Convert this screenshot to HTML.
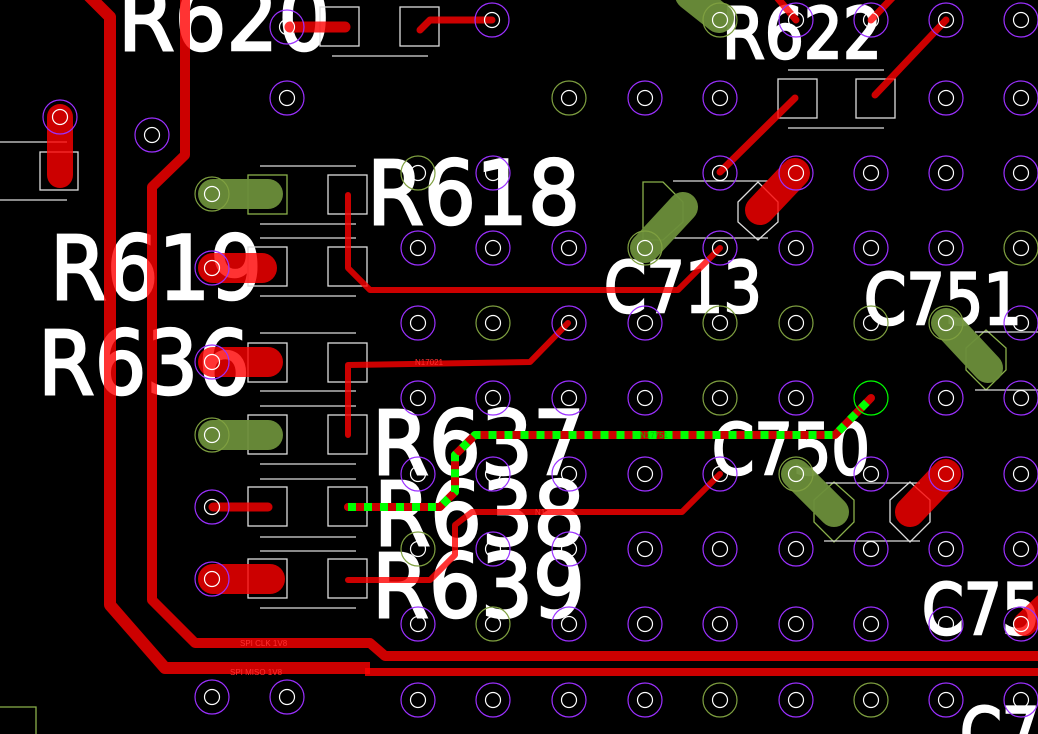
<!DOCTYPE html>
<html><head><meta charset="utf-8"><style>
html,body{margin:0;padding:0;background:#000;width:1038px;height:734px;overflow:hidden}
svg{display:block;overflow:hidden}
.big{font-family:"DejaVu Sans","Liberation Sans",sans-serif;fill:#fff;stroke:#fff;stroke-width:2.5}
</style></head><body>
<svg width="1038" height="734" viewBox="0 0 1038 734" xmlns="http://www.w3.org/2000/svg">
<defs><clipPath id="c"><rect width="1038" height="734"/></clipPath></defs>
<g clip-path="url(#c)">
<rect width="1038" height="734" fill="#000"/>
<g class="big">
<text x="118" y="50" font-size="88" textLength="212" lengthAdjust="spacingAndGlyphs">R620</text>
<text x="722" y="58" font-size="70" textLength="160" lengthAdjust="spacingAndGlyphs">R622</text>
<text x="367" y="224" font-size="88" textLength="213" lengthAdjust="spacingAndGlyphs">R618</text>
<text x="50" y="299" font-size="88" textLength="212" lengthAdjust="spacingAndGlyphs">R619</text>
<text x="38" y="394" font-size="88" textLength="212" lengthAdjust="spacingAndGlyphs">R636</text>
<text x="372" y="474" font-size="88" textLength="213" lengthAdjust="spacingAndGlyphs">R637</text>
<text x="374" y="545" font-size="88" textLength="211" lengthAdjust="spacingAndGlyphs">R638</text>
<text x="372" y="617" font-size="88" textLength="213" lengthAdjust="spacingAndGlyphs">R639</text>
<text x="604" y="312" font-size="70" textLength="158" lengthAdjust="spacingAndGlyphs">C713</text>
<text x="864" y="324" font-size="70" textLength="158" lengthAdjust="spacingAndGlyphs">C751</text>
<text x="712" y="474" font-size="70" textLength="158" lengthAdjust="spacingAndGlyphs">C750</text>
<text x="922" y="634" font-size="70" textLength="156" lengthAdjust="spacingAndGlyphs">C751</text>
<text x="960" y="758" font-size="70" textLength="156" lengthAdjust="spacingAndGlyphs">C752</text>
</g>
<g stroke="#ddd" stroke-width="1.3" fill="none">
<rect x="40" y="152" width="38" height="38"/>
<line x1="0" y1="142" x2="67" y2="142"/><line x1="0" y1="200" x2="67" y2="200"/>
<rect x="320" y="7" width="39" height="39"/><rect x="400" y="7" width="39" height="39"/>
<line x1="332" y1="56" x2="428" y2="56"/>
<rect x="778" y="79" width="39" height="39"/><rect x="856" y="79" width="39" height="39"/>
<line x1="788" y1="70" x2="884" y2="70"/><line x1="788" y1="128" x2="884" y2="128"/>
<g>
<rect x="248" y="175" width="39" height="39" stroke="#8ab04a"/><rect x="328" y="175" width="39" height="39"/>
<rect x="248" y="247" width="39" height="39"/><rect x="328" y="247" width="39" height="39"/>
<rect x="248" y="343" width="39" height="39"/><rect x="328" y="343" width="39" height="39"/>
<rect x="248" y="415" width="39" height="39"/><rect x="328" y="415" width="39" height="39"/>
<rect x="248" y="487" width="39" height="39"/><rect x="328" y="487" width="39" height="39"/>
<rect x="248" y="559" width="39" height="39"/><rect x="328" y="559" width="39" height="39"/>
<line x1="260" y1="166" x2="356" y2="166"/><line x1="260" y1="224" x2="356" y2="224"/>
<line x1="260" y1="238" x2="356" y2="238"/><line x1="260" y1="296" x2="356" y2="296"/>
<line x1="260" y1="333" x2="356" y2="333"/><line x1="260" y1="391" x2="356" y2="391"/>
<line x1="260" y1="406" x2="356" y2="406"/><line x1="260" y1="464" x2="356" y2="464"/>
<line x1="260" y1="479" x2="356" y2="479"/><line x1="260" y1="537" x2="356" y2="537"/>
<line x1="260" y1="551" x2="356" y2="551"/><line x1="260" y1="608" x2="356" y2="608"/>
</g>
<polygon points="663,182 683,182 703,202 703,222 683,240 663,240" stroke="#8ab04a" transform="translate(-20,0)"/>
<polygon points="738,202 758,182 778,202 778,222 758,240 738,222" stroke="#ddd"/>
<line x1="673" y1="181" x2="768" y2="181"/><line x1="673" y1="238" x2="768" y2="238"/>
<polygon points="966,348 986,330 1006,348 1006,370 986,390 966,370" stroke="#8ab04a"/>
<line x1="975" y1="332" x2="1038" y2="332"/><line x1="975" y1="390" x2="1038" y2="390"/>
<polygon points="814,500 834,482 854,500 854,522 834,542 814,522" stroke="#8ab04a"/>
<polygon points="890,500 910,482 930,500 930,522 910,542 890,522" stroke="#ddd"/>
<line x1="824" y1="483" x2="920" y2="483"/><line x1="824" y1="541" x2="920" y2="541"/>
<polyline points="0,707 36,707 36,734" stroke="#8ab04a"/>
</g>
<g fill="none" stroke="#ff0000" stroke-opacity="0.8" stroke-linecap="round" stroke-linejoin="round">
<polyline points="88,-5 110,17 110,605 165,668 370,668" stroke-width="12" stroke-linecap="butt"/>
<polyline points="365,672 1040,672" stroke-width="8" stroke-linecap="butt"/>
<polyline points="185,-5 185,155 152,187 152,600 195,643 370,643 385,656 1040,656" stroke-width="10" stroke-linecap="butt"/>
<polyline points="348,195 348,268 370,290 678,290 720,248" stroke-width="6"/>
<polyline points="348,435 348,365 530,362 568,323" stroke-width="6"/>
<polyline points="348,580 430,580 455,555 455,525 472,512 682,512 720,474" stroke-width="6"/>
<polyline points="720,172 795,98" stroke-width="7"/>
<polyline points="875,95 946,20" stroke-width="7"/>
<polyline points="871,20 895,-5" stroke-width="7"/>
<polyline points="796,20 775,-5" stroke-width="7"/>
<polyline points="420,30 430,20 492,20" stroke-width="7"/>
<line x1="60" y1="117" x2="60" y2="175" stroke-width="26"/>
<line x1="290" y1="27" x2="345" y2="27" stroke-width="11"/>
<line x1="213" y1="268" x2="262" y2="268" stroke-width="30"/>
<line x1="213" y1="362" x2="268" y2="362" stroke-width="30"/>
<line x1="213" y1="507" x2="268" y2="507" stroke-width="9"/>
<line x1="213" y1="579" x2="270" y2="579" stroke-width="30"/>
<line x1="760" y1="210" x2="795" y2="173" stroke-width="30"/>
<line x1="910" y1="512" x2="946" y2="474" stroke-width="30"/>
<line x1="1025" y1="624" x2="1045" y2="605" stroke-width="24"/>
</g>
<g fill="none" stroke-linecap="round" stroke-linejoin="round">
<polyline points="348,507 440,507 455,492 455,455 475,435 835,435 871,398" stroke="#cc0000" stroke-width="8"/>
<polyline points="348,507 440,507 455,492 455,455 475,435 835,435 871,398" stroke="#00ff00" stroke-width="8" stroke-dasharray="8 8" stroke-linecap="butt"/>
</g>
<g stroke="#6b8e3a" stroke-opacity="0.95" stroke-linecap="round" fill="none">
<line x1="213" y1="194" x2="268" y2="194" stroke-width="30"/>
<line x1="213" y1="435" x2="268" y2="435" stroke-width="30"/>
<line x1="645" y1="248" x2="683" y2="207" stroke-width="30"/>
<line x1="946" y1="323" x2="988" y2="368" stroke-width="30"/>
<line x1="796" y1="474" x2="834" y2="512" stroke-width="30"/>
<line x1="690" y1="-5" x2="719" y2="18" stroke-width="30"/>
</g>
<g fill="none" stroke-width="1.2">
<g stroke="#9b30ff">
<circle cx="287" cy="27" r="17"/><circle cx="492" cy="20" r="17"/><circle cx="796" cy="20" r="17"/><circle cx="871" cy="20" r="17"/><circle cx="946" cy="20" r="17"/><circle cx="1021" cy="20" r="17"/>
<circle cx="287" cy="98" r="17"/><circle cx="645" cy="98" r="17"/><circle cx="720" cy="98" r="17"/><circle cx="946" cy="98" r="17"/><circle cx="1021" cy="98" r="17"/>
<circle cx="60" cy="117" r="17"/><circle cx="152" cy="135" r="17"/>
<circle cx="493" cy="173" r="17"/><circle cx="720" cy="173" r="17"/><circle cx="796" cy="173" r="17"/><circle cx="871" cy="173" r="17"/><circle cx="946" cy="173" r="17"/><circle cx="1021" cy="173" r="17"/>
<circle cx="418" cy="248" r="17"/><circle cx="493" cy="248" r="17"/><circle cx="569" cy="248" r="17"/><circle cx="720" cy="248" r="17"/><circle cx="796" cy="248" r="17"/><circle cx="871" cy="248" r="17"/><circle cx="946" cy="248" r="17"/>
<circle cx="418" cy="323" r="17"/><circle cx="569" cy="323" r="17"/><circle cx="645" cy="323" r="17"/><circle cx="1021" cy="323" r="17"/>
<circle cx="418" cy="398" r="17"/><circle cx="493" cy="398" r="17"/><circle cx="569" cy="398" r="17"/><circle cx="645" cy="398" r="17"/><circle cx="796" cy="398" r="17"/><circle cx="946" cy="398" r="17"/><circle cx="1021" cy="398" r="17"/>
<circle cx="418" cy="474" r="17"/><circle cx="493" cy="474" r="17"/><circle cx="569" cy="474" r="17"/><circle cx="645" cy="474" r="17"/><circle cx="720" cy="474" r="17"/><circle cx="871" cy="474" r="17"/><circle cx="946" cy="474" r="17"/><circle cx="1021" cy="474" r="17"/>
<circle cx="493" cy="549" r="17"/><circle cx="569" cy="549" r="17"/><circle cx="645" cy="549" r="17"/><circle cx="720" cy="549" r="17"/><circle cx="796" cy="549" r="17"/><circle cx="871" cy="549" r="17"/><circle cx="946" cy="549" r="17"/><circle cx="1021" cy="549" r="17"/>
<circle cx="418" cy="624" r="17"/><circle cx="569" cy="624" r="17"/><circle cx="645" cy="624" r="17"/><circle cx="720" cy="624" r="17"/><circle cx="796" cy="624" r="17"/><circle cx="871" cy="624" r="17"/><circle cx="946" cy="624" r="17"/><circle cx="1021" cy="624" r="17"/>
<circle cx="212" cy="697" r="17"/><circle cx="287" cy="697" r="17"/><circle cx="418" cy="700" r="17"/><circle cx="493" cy="700" r="17"/><circle cx="569" cy="700" r="17"/><circle cx="645" cy="700" r="17"/><circle cx="796" cy="700" r="17"/><circle cx="946" cy="700" r="17"/><circle cx="1021" cy="700" r="17"/>
<circle cx="212" cy="268" r="17"/><circle cx="212" cy="362" r="17"/><circle cx="212" cy="507" r="17"/><circle cx="212" cy="579" r="17"/>
</g>
<g stroke="#7fa040">
<circle cx="720" cy="20" r="17"/><circle cx="569" cy="98" r="17"/><circle cx="418" cy="173" r="17"/><circle cx="645" cy="248" r="17"/><circle cx="1021" cy="248" r="17"/>
<circle cx="493" cy="323" r="17"/><circle cx="720" cy="323" r="17"/><circle cx="796" cy="323" r="17"/><circle cx="871" cy="323" r="17"/><circle cx="946" cy="323" r="17"/>
<circle cx="720" cy="398" r="17"/><circle cx="796" cy="474" r="17"/><circle cx="418" cy="549" r="17"/><circle cx="493" cy="624" r="17"/>
<circle cx="720" cy="700" r="17"/><circle cx="871" cy="700" r="17"/>
<circle cx="212" cy="194" r="17"/><circle cx="212" cy="435" r="17"/>
</g>
<circle cx="871" cy="398" r="17" stroke="#00ff00"/>
<g stroke="#fff">
<circle cx="287" cy="27" r="7.5"/><circle cx="492" cy="20" r="7.5"/><circle cx="720" cy="20" r="7.5"/><circle cx="796" cy="20" r="7.5"/><circle cx="871" cy="20" r="7.5"/><circle cx="946" cy="20" r="7.5"/><circle cx="1021" cy="20" r="7.5"/>
<circle cx="287" cy="98" r="7.5"/><circle cx="569" cy="98" r="7.5"/><circle cx="645" cy="98" r="7.5"/><circle cx="720" cy="98" r="7.5"/><circle cx="946" cy="98" r="7.5"/><circle cx="1021" cy="98" r="7.5"/>
<circle cx="60" cy="117" r="7.5"/><circle cx="152" cy="135" r="7.5"/>
<circle cx="418" cy="173" r="7.5"/><circle cx="493" cy="173" r="7.5"/><circle cx="720" cy="173" r="7.5"/><circle cx="796" cy="173" r="7.5"/><circle cx="871" cy="173" r="7.5"/><circle cx="946" cy="173" r="7.5"/><circle cx="1021" cy="173" r="7.5"/>
<circle cx="418" cy="248" r="7.5"/><circle cx="493" cy="248" r="7.5"/><circle cx="569" cy="248" r="7.5"/><circle cx="645" cy="248" r="7.5"/><circle cx="720" cy="248" r="7.5"/><circle cx="796" cy="248" r="7.5"/><circle cx="871" cy="248" r="7.5"/><circle cx="946" cy="248" r="7.5"/><circle cx="1021" cy="248" r="7.5"/>
<circle cx="418" cy="323" r="7.5"/><circle cx="493" cy="323" r="7.5"/><circle cx="569" cy="323" r="7.5"/><circle cx="645" cy="323" r="7.5"/><circle cx="720" cy="323" r="7.5"/><circle cx="796" cy="323" r="7.5"/><circle cx="871" cy="323" r="7.5"/><circle cx="946" cy="323" r="7.5"/><circle cx="1021" cy="323" r="7.5"/>
<circle cx="418" cy="398" r="7.5"/><circle cx="493" cy="398" r="7.5"/><circle cx="569" cy="398" r="7.5"/><circle cx="645" cy="398" r="7.5"/><circle cx="720" cy="398" r="7.5"/><circle cx="796" cy="398" r="7.5"/><circle cx="946" cy="398" r="7.5"/><circle cx="1021" cy="398" r="7.5"/>
<circle cx="418" cy="474" r="7.5"/><circle cx="493" cy="474" r="7.5"/><circle cx="569" cy="474" r="7.5"/><circle cx="645" cy="474" r="7.5"/><circle cx="720" cy="474" r="7.5"/><circle cx="796" cy="474" r="7.5"/><circle cx="871" cy="474" r="7.5"/><circle cx="946" cy="474" r="7.5"/><circle cx="1021" cy="474" r="7.5"/>
<circle cx="418" cy="549" r="7.5"/><circle cx="493" cy="549" r="7.5"/><circle cx="569" cy="549" r="7.5"/><circle cx="645" cy="549" r="7.5"/><circle cx="720" cy="549" r="7.5"/><circle cx="796" cy="549" r="7.5"/><circle cx="871" cy="549" r="7.5"/><circle cx="946" cy="549" r="7.5"/><circle cx="1021" cy="549" r="7.5"/>
<circle cx="418" cy="624" r="7.5"/><circle cx="493" cy="624" r="7.5"/><circle cx="569" cy="624" r="7.5"/><circle cx="645" cy="624" r="7.5"/><circle cx="720" cy="624" r="7.5"/><circle cx="796" cy="624" r="7.5"/><circle cx="871" cy="624" r="7.5"/><circle cx="946" cy="624" r="7.5"/><circle cx="1021" cy="624" r="7.5"/>
<circle cx="212" cy="697" r="7.5"/><circle cx="287" cy="697" r="7.5"/><circle cx="418" cy="700" r="7.5"/><circle cx="493" cy="700" r="7.5"/><circle cx="569" cy="700" r="7.5"/><circle cx="645" cy="700" r="7.5"/><circle cx="720" cy="700" r="7.5"/><circle cx="796" cy="700" r="7.5"/><circle cx="871" cy="700" r="7.5"/><circle cx="946" cy="700" r="7.5"/><circle cx="1021" cy="700" r="7.5"/>
<circle cx="212" cy="194" r="7.5"/><circle cx="212" cy="268" r="7.5"/><circle cx="212" cy="362" r="7.5"/><circle cx="212" cy="435" r="7.5"/><circle cx="212" cy="507" r="7.5"/><circle cx="212" cy="579" r="7.5"/>
</g>
</g>
<g font-family="Liberation Sans, sans-serif" font-size="8" fill="#ff3030">
<text x="240" y="646">SPI CLK 1V8</text>
<text x="230" y="675">SPI MISO 1V8</text>
<text x="415" y="365">N17021</text>
<text x="535" y="515">N17021</text>
<text x="640" y="438" fill="#00cc00">N17751</text>
</g>
</g>
</svg>
</body></html>
